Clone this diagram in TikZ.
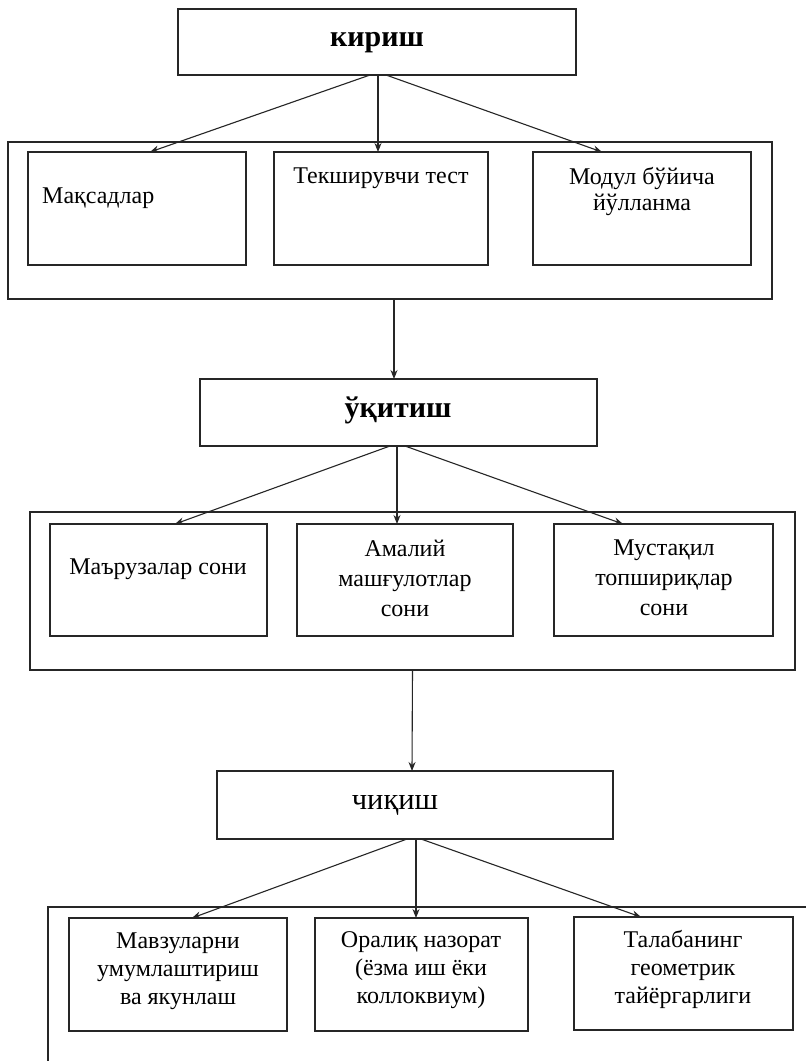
\documentclass[tikz,border=0pt]{standalone}
\usepackage{fontspec}
\setmainfont{Liberation Serif}
\usetikzlibrary{arrows.meta}
\begin{document}
\begin{tikzpicture}[x=1pt,y=-1pt,
  box/.style={draw=black!85, line width=1.2pt, inner sep=0pt, outer sep=0pt, anchor=north west},
  body/.style={font=\fontsize{24}{29}\selectfont, align=center, inner sep=0pt},
  headb/.style={font=\fontsize{30}{34}\selectfont\bfseries, inner sep=0pt},
  headr/.style={font=\fontsize{30.5}{34}\selectfont, inner sep=0pt},
  arr/.style={draw=black!85, line width=1.1pt, -{Stealth[length=9pt,width=7pt]}},
  frame/.style={draw=black!85, line width=1.2pt}
]
\useasboundingbox[fill=white] (0,0) rectangle (806,1061);

% ---- level 1 ----
\node[box, minimum width=398pt, minimum height=66pt] (k1) at (178,9) {};
\node[headb] (k1t) at (377,43) {кириш};
\node[box, minimum width=764pt, minimum height=157pt] (c1) at (8,142) {};
\node[box, minimum width=218pt, minimum height=113pt] (a1) at (28,152) {};
\node[box, minimum width=214pt, minimum height=113pt] (a2) at (274,152) {};
\node[box, minimum width=218pt, minimum height=113pt] (a3) at (533,152) {};
\node[body, anchor=west] (a1t) at (42,198) {Мақсадлар};
\node[body] (a2t) at (381,178) {Текширувчи тест};
\node[body, font=\fontsize{24}{26}\selectfont] (a3t) at (642,191) {Модул бўйича\\йўлланма};
\draw[arr] ([xshift=-7pt]k1.south) -- ([xshift=13pt]a1.north);
\draw[arr] ([xshift=1pt]k1.south) -- ([xshift=-3pt]a2.north);
\draw[arr] ([xshift=9pt]k1.south) -- ([xshift=-40pt]a3.north);

% ---- level 2 ----
\node[box, minimum width=397pt, minimum height=67pt] (k2) at (200,379) {};
\node[headb] (k2t) at (398,410) {ўқитиш};
\draw[arr] ([xshift=4pt]c1.south) -- ([xshift=-4.5pt]k2.north);
\node[box, minimum width=765pt, minimum height=158pt] (c2) at (30,512) {};
\node[box, minimum width=217pt, minimum height=112pt] (b1) at (50,524) {};
\node[box, minimum width=216pt, minimum height=112pt] (b2) at (297,524) {};
\node[box, minimum width=219pt, minimum height=112pt] (b3) at (554,524) {};
\node[body] (b1t) at (158,569) {Маърузалар сони};
\node[body, font=\fontsize{24}{30}\selectfont] (b2t) at (405,578) {Амалий\\машғулотлар\\сони};
\node[body, font=\fontsize{24}{30}\selectfont] (b3t) at (664,578) {Мустақил\\топшириқлар\\сони};
\draw[arr] ([xshift=-8.5pt]k2.south) -- ([xshift=16.5pt]b1.north);
\draw[arr] ([xshift=-1.5pt]k2.south) -- ([xshift=-8pt]b2.north);
\draw[arr] ([xshift=6.5pt]k2.south) -- ([xshift=-40.5pt]b3.north);

% ---- level 3 ----
\node[box, minimum width=396pt, minimum height=68pt] (k3) at (217,771) {};
\node[headr] (k3t) at (395,805) {чиқиш};
\draw[arr] (c2.south) -- ([xshift=-3pt]k3.north);
\draw[frame] (48,1061) |- (806,907);
\node[box, minimum width=218pt, minimum height=113pt] (d1) at (69,918) {};
\node[box, minimum width=213pt, minimum height=113pt] (d2) at (315,918) {};
\node[box, minimum width=219pt, minimum height=113pt] (d3) at (574,917) {};
\node[body, font=\fontsize{24}{28}\selectfont] (d1t) at (178,971) {Мавзуларни\\умумлаштириш\\ва якунлаш};
\node[body, font=\fontsize{24}{28}\selectfont] (d2t) at (421,970) {Оралиқ назорат\\(ёзма иш ёки\\коллоквиум)};
\node[body, font=\fontsize{24}{28}\selectfont] (d3t) at (683,969) {Талабанинг\\геометрик\\тайёргарлиги};
\draw[arr] ([xshift=-8pt]k3.south) -- ([xshift=14pt]d1.north);
\draw[arr] ([xshift=1pt]k3.south) -- ([xshift=-5.5pt]d2.north);
\draw[arr] ([xshift=6pt]k3.south) -- ([xshift=-42.5pt]d3.north);
\end{tikzpicture}
\end{document}
